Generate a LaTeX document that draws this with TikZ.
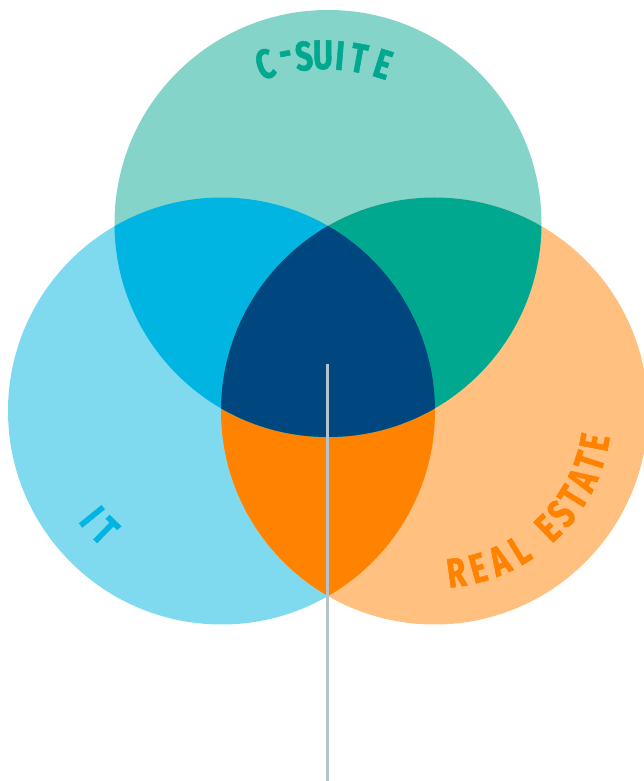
\documentclass[tikz,border=0pt]{standalone}
\usepackage{fontspec}
\newfontfamily\vennfont[FakeStretch=0.74, FakeBold=1.2]{Fira Sans Bold}
\definecolor{suitelight}{HTML}{84D4C9}
\definecolor{itlight}{HTML}{7FDAF0}
\definecolor{estatelight}{HTML}{FFC080}
\definecolor{suitedark}{HTML}{00A88F}
\definecolor{itdark}{HTML}{00B5E2}
\definecolor{estatedark}{HTML}{FF8200}
\definecolor{core}{HTML}{00467F}
\definecolor{pinline}{HTML}{B5C3CD}
\begin{document}
\begin{tikzpicture}[x=0.02cm, y=0.02cm,
    letter/.style={font=\vennfont\fontsize{23.5}{23.5}\selectfont, inner sep=0pt, anchor=center},
    pin/.style={draw=pinline, line width=1.15pt}]
  \useasboundingbox (0,0) rectangle (644,781);
  \clip (0,0) rectangle (644,781);
  \coordinate (suite) at (328,557.5);
  \coordinate (it) at (221.5,370);
  \coordinate (estate) at (434.5,370);
  \fill[suitelight] (suite) circle (213.5);
  \fill[itlight] (it) circle (213.5);
  \fill[estatelight] (estate) circle (213.5);
  \begin{scope}
    \clip (it) circle (213.5);
    \fill[estatedark] (estate) circle (213.5);
  \end{scope}
  \begin{scope}
    \clip (suite) circle (213.5);
    \fill[itdark] (it) circle (213.5);
    \fill[suitedark] (estate) circle (213.5);
    \clip (it) circle (213.5);
    \fill[core] (estate) circle (213.5);
  \end{scope}
  % labels
  \coordinate (suite text) at (324,531);
  \foreach \ch/\ang [count=\i] in {C/107.6, -/101.2, S/95.9, U/90.3, I/85.3, T/79.7, E/72.4}
    \node[letter, text=suitedark, rotate=\ang-90] (suite-\i) at ([shift={(\ang:195)}]suite text) {\ch};
  \foreach \ch/\ang [count=\i] in {I/219.1, T/225.9}
    \node[letter, text=itdark, rotate=\ang+90] (it-\i) at ([shift={(\ang:167)}]it) {\ch};
  \foreach \ch/\ang [count=\i] in {R/-82.3, E/-74.5, A/-66.5, L/-58.5, E/-46, S/-39, T/-32, A/-25, T/-18, E/-11}
    \node[letter, text=estatedark, rotate=\ang+90] (estate-\i) at ([shift={(\ang:163)}]estate) {\ch};
  \coordinate (pin top) at (327.5,417);
  \coordinate (pin foot) at (327.5,0);
  \draw[pin] (pin top) -- (pin foot);
\end{tikzpicture}
\end{document}
